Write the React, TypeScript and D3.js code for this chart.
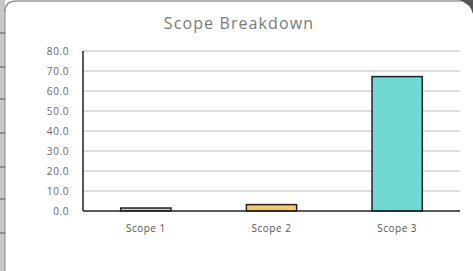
import React from "react";
import * as d3 from "d3";

const categories = ["Scope 1", "Scope 2", "Scope 3"];
const values = [1.5, 3.2, 67.2];
const colors = ["#c9c9c9", "#f2c96e", "#6fd9d4"];
const yTicks = [0, 10, 20, 30, 40, 50, 60, 70, 80];
const title = "Scope Breakdown";
const rowLines = [33, 67, 99, 133, 167, 199, 233];

export default function App() {
  const W = 473, H = 271;
  const left = 83, right = 460, top = 51, bottom = 211;
  const x = d3.scaleBand().domain(categories).range([left, right]).paddingInner(0.6).paddingOuter(0.3);
  const y = d3.scaleLinear().domain([0, 80]).range([bottom, top]);
  const font = "'Open Sans', 'Noto Sans', sans-serif";
  return (
    <svg width={W} height={H} style={{ position: "absolute", left: 0, top: 0, background: "#fff" }}>
      <rect x={0} y={0} width={W} height={H} fill="#fff" />
      <rect x={0} y={0} width={5} height={H} fill="#c8c8c8" />
      <line x1={5} x2={5} y1={8} y2={H} stroke="#8a8a8a" strokeWidth={1} />
      {rowLines.map((r) => (
        <line key={r} x1={0} x2={5} y1={r} y2={r} stroke="#555" strokeWidth={1} />
      ))}
      <path d={`M5,12 Q5,1 16,1 L${W - 12},1`} fill="none" stroke="#9a9a9a" strokeWidth={1.5} />
      <path d={`M${W - 14},0 L${W},0 L${W},14 Q${W - 2},4 ${W - 14},0 Z`} fill="#555" />
      <text x={239} y={29} textAnchor="middle" fontFamily={font} fontSize={16} letterSpacing={1.1} fill="#7a7a7a">{title}</text>
      {yTicks.map((t) => (
        <g key={t}>
          {t > 0 && <line x1={left} x2={right} y1={y(t)} y2={y(t)} stroke="#bdbdbd" strokeWidth={1.2} />}
          <text x={69} y={y(t) + 3.5} textAnchor="end" fontFamily={font} fontSize={10} letterSpacing={0.6} fill="#6a6a6a">{t.toFixed(1)}</text>
        </g>
      ))}
      {categories.map((c, i) => (
        <g key={c}>
          <rect x={x(c)} y={y(values[i])} width={x.bandwidth()} height={bottom - y(values[i])} fill={colors[i]} stroke="#222" strokeWidth={1.5} />
          <text x={(x(c) as number) + x.bandwidth() / 2} y={232} textAnchor="middle" fontFamily={font} fontSize={10} letterSpacing={0.5} fill="#555">{c}</text>
        </g>
      ))}
      <line x1={left} x2={left} y1={top} y2={bottom} stroke="#222" strokeWidth={1.5} />
      <line x1={left} x2={right} y1={bottom} y2={bottom} stroke="#222" strokeWidth={1.5} />
    </svg>
  );
}
